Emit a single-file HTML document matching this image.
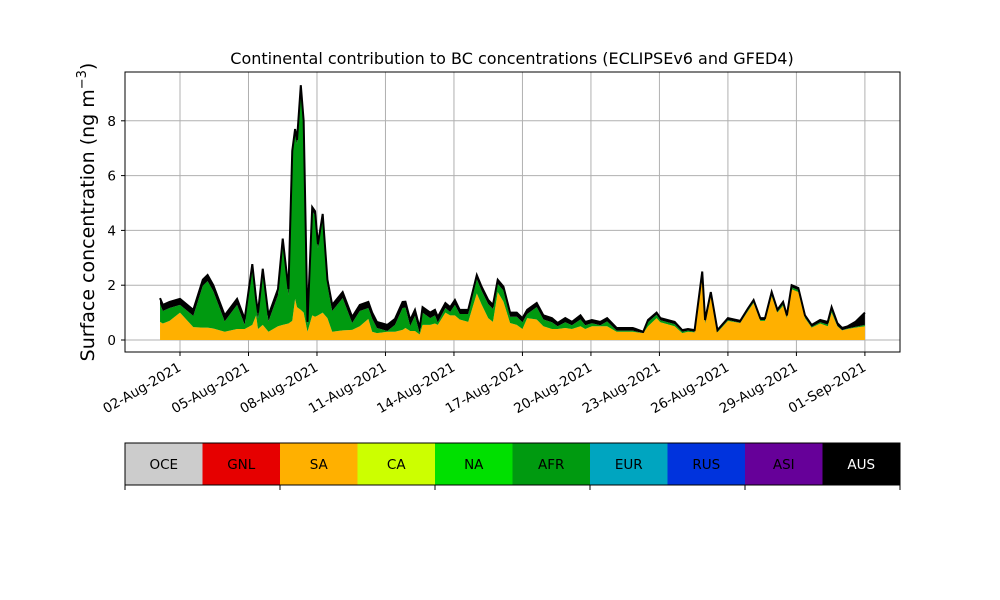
<!DOCTYPE html>
<html><head><meta charset="utf-8"><style>
body{margin:0;background:#fff;font-family:"DejaVu Sans","Liberation Sans",sans-serif}
svg{display:block;font-family:"DejaVu Sans","Liberation Sans",sans-serif}
</style></head><body>
<svg id="chart" width="1000" height="600" viewBox="0 0 1000 600" xmlns="http://www.w3.org/2000/svg">
<text x="512" y="64" font-size="16" text-anchor="middle">Continental contribution to BC concentrations (ECLIPSEv6 and GFED4)</text>
<text transform="translate(94,212) rotate(-90)" font-size="19" text-anchor="middle">Surface concentration (ng m<tspan dy="-8" font-size="13">−3</tspan><tspan dy="8">)</tspan></text>
<g id="grid"></g>
<g id="areas"></g>
<g id="axes"></g>
<g id="cbar"></g>
</svg>
<script>
// hours since 01-Aug-2021 00:00
const hours=[3,6,13,24,38,48,53,59,71,84,92,100,104,106,111,117,127,132,138,142,145,147,151,154,158,163,166,169,174,179,184,195,205,213,222,226,231,242,250,258,261,266,271,276,279,287,292,295,303,308,313,318,327,336,341,348,353,358,364,371,378,384,389,399,406,415,421,429,436,445,450,457,466,473,483,500,511,516,525,529,544,552,558,565,573,576,582,589,600,613,621,627,634,639,646,652,658,662,667,674,681,688,697,705,709,715,720,726,734,744];
const totalVals=[1.53,1.28,1.39,1.5,1.1,2.2,2.37,2.0,0.9,1.5,0.77,2.77,1.5,1.0,2.6,0.9,1.86,3.7,1.86,6.9,7.7,7.3,9.3,8.0,0.66,4.85,4.7,3.5,4.6,2.2,1.28,1.75,0.84,1.28,1.39,1.0,0.66,0.55,0.77,1.39,1.4,0.73,1.1,0.44,1.2,1.0,1.1,0.84,1.35,1.2,1.46,1.1,1.1,2.37,1.95,1.46,1.28,2.2,1.95,1.0,1.0,0.8,1.1,1.35,0.9,0.8,0.62,0.8,0.66,0.9,0.66,0.73,0.66,0.8,0.44,0.44,0.3,0.73,1.0,0.8,0.66,0.36,0.4,0.36,2.5,0.73,1.75,0.36,0.8,0.7,1.15,1.46,0.8,0.8,1.75,1.1,1.39,0.9,2.0,1.9,0.9,0.55,0.73,0.66,1.2,0.62,0.44,0.5,0.66,1.0];
const saVals=[0.66,0.6,0.7,1.0,0.47,0.45,0.45,0.42,0.3,0.4,0.4,0.55,0.9,0.4,0.55,0.3,0.5,0.55,0.6,0.7,1.5,1.2,1.1,1.0,0.3,0.9,0.85,0.9,1.0,0.8,0.3,0.35,0.37,0.5,0.77,0.3,0.25,0.3,0.3,0.37,0.44,0.33,0.33,0.2,0.55,0.55,0.6,0.55,1.0,0.9,0.9,0.75,0.66,1.7,1.3,0.8,0.66,1.75,1.4,0.62,0.55,0.4,0.8,0.75,0.5,0.4,0.4,0.44,0.4,0.5,0.4,0.5,0.5,0.5,0.3,0.3,0.25,0.5,0.8,0.65,0.5,0.25,0.3,0.28,2.3,0.6,1.6,0.28,0.7,0.62,1.05,1.35,0.7,0.7,1.6,1.0,1.25,0.8,1.85,1.75,0.8,0.45,0.6,0.5,1.0,0.5,0.35,0.4,0.45,0.5];
const ausVals=[0.22,0.22,0.22,0.22,0.22,0.22,0.22,0.22,0.22,0.22,0.22,0.22,0.22,0.22,0.22,0.22,0.22,0.22,0.22,0.15,0.15,0.15,0.15,0.15,0.15,0.15,0.15,0.15,0.15,0.2,0.22,0.22,0.22,0.22,0.22,0.22,0.22,0.22,0.22,0.22,0.22,0.22,0.22,0.2,0.2,0.2,0.2,0.2,0.18,0.18,0.18,0.15,0.15,0.15,0.15,0.15,0.15,0.15,0.15,0.15,0.15,0.15,0.15,0.15,0.15,0.15,0.12,0.15,0.12,0.15,0.12,0.12,0.12,0.12,0.1,0.1,0.05,0.08,0.08,0.08,0.08,0.06,0.06,0.06,0.08,0.08,0.08,0.06,0.07,0.07,0.07,0.07,0.07,0.07,0.08,0.07,0.08,0.07,0.08,0.08,0.07,0.07,0.08,0.1,0.12,0.1,0.08,0.08,0.18,0.45];
const yTicks=[0,2,4,6,8];
const xTickDays=[2,5,8,11,14,17,20,23,26,29,32];
const xTickLabels=["02-Aug-2021","05-Aug-2021","08-Aug-2021","11-Aug-2021","14-Aug-2021","17-Aug-2021","20-Aug-2021","23-Aug-2021","26-Aug-2021","29-Aug-2021","01-Sep-2021"];
const regions=["OCE","GNL","SA","CA","NA","AFR","EUR","RUS","ASI","AUS"];
const regionColors=["#cccccc","#e60000","#ffb000","#ccff00","#00e000","#009a10","#00a5c0","#0033dd","#660099","#000000"];

const NS="http://www.w3.org/2000/svg";
const L=125,R=900,T=72,B=352;
const xs=h=>180+(h-24)/24*22.83;
const ys=v=>340-v*27.4;
function mk(tag,attrs,parent){const e=document.createElementNS(NS,tag);for(const k in attrs)e.setAttribute(k,attrs[k]);parent.appendChild(e);return e;}
const grid=document.getElementById('grid'),areas=document.getElementById('areas'),axes=document.getElementById('axes'),cbar=document.getElementById('cbar');
yTicks.forEach(v=>{
  const g=mk('line',{x1:L,x2:R,y1:ys(v),y2:ys(v),stroke:'#b0b0b0','stroke-width':1},grid);
  
  
  mk('line',{x1:L-4,x2:L,y1:ys(v),y2:ys(v),stroke:'#000'},axes);
  const t=mk('text',{x:L-9,y:ys(v)+5,'font-size':13.5,'text-anchor':'end'},axes);t.textContent=v;
  
  
});
xTickDays.forEach((d,i)=>{
  const x=xs((d-1)*24);
  const g=mk('line',{x1:x,x2:x,y1:T,y2:B,stroke:'#b0b0b0','stroke-width':1},grid);
  
  
  mk('line',{x1:x,x2:x,y1:B,y2:B+4,stroke:'#000'},axes);
  const t=mk('text',{x:x+2,y:B+18,'font-size':13.5,'text-anchor':'end',transform:`rotate(-30 ${x+2} ${B+18})`},axes);t.textContent=xTickLabels[i];
  
  
});
mk('rect',{x:L,y:T,width:R-L,height:B-T,fill:'none',stroke:'#000','stroke-width':1},axes);
const base=hours.map(()=>0);
const sa=saVals, aus=ausVals;
const afr=totalVals.map((t,i)=>Math.max(0,t-sa[i]-aus[i]));
function band(lo,hi,color,name){
  let d='M'+hours.map((h,i)=>xs(h)+','+ys(hi[i])).join('L');
  for(let i=hours.length-1;i>=0;i--)d+='L'+xs(hours[i])+','+ys(lo[i]);
  const p=mk('path',{d:d+'Z',fill:color,stroke:'none'},areas);
  
  
}
const s1=sa.map(v=>v);
const s2=s1.map((v,i)=>v+afr[i]);
const s3=s2.map((v,i)=>v+aus[i]);
band(base,s1,'#ffb000','sa-area');
band(s1,s2,'#009a10','afr-area');
band(s2,s3,'#000000','aus-area');
const totalLine=mk('path',{d:'M'+hours.map((h,i)=>xs(h)+','+ys(s3[i])).join('L'),fill:'none',stroke:'#000','stroke-width':2},areas);


const bw=(R-L)/regions.length;
regions.forEach((r,i)=>{
  const x=L+i*bw;
  const rc=mk('rect',{x:x,y:443,width:bw+0.5,height:42,fill:regionColors[i]},cbar);
  
  
  const t=mk('text',{x:x+bw/2,y:469,'font-size':13.5,'text-anchor':'middle',fill:r==='AUS'?'#fff':'#000'},cbar);t.textContent=r;
  
  
});
mk('rect',{x:L,y:443,width:R-L,height:42,fill:'none',stroke:'#000','stroke-width':1},cbar);
for(let i=0;i<=5;i++){const x=L+i*(R-L)/5;mk('line',{x1:x,x2:x,y1:485,y2:490,stroke:'#000'},cbar);}
</script>
</body></html>
